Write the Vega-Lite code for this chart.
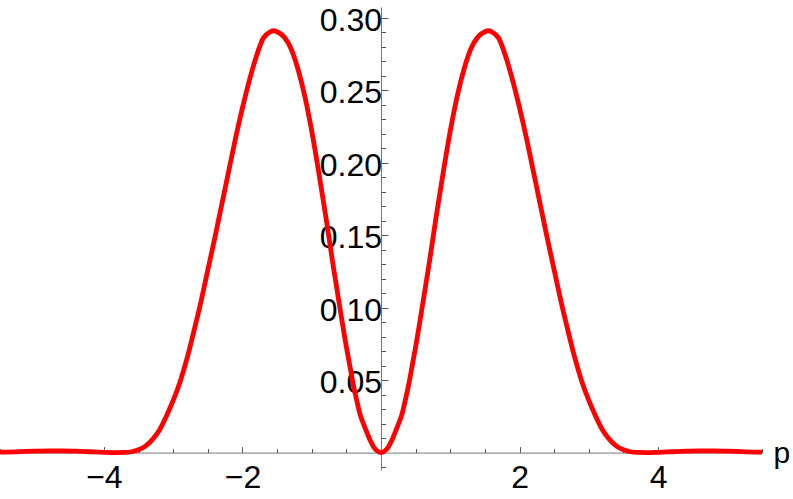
{
  "$schema": "https://vega.github.io/schema/vega-lite/v6.json",
  "width": 762,
  "height": 463,
  "autosize": {"type": "none"},
  "padding": {"left": 0, "top": 7, "right": 31, "bottom": 29},
  "background": "white",
  "config": {"view": {"stroke": null}, "font": "Liberation Sans"},
  "data": {"values": [
    {"p": -5.5, "f": 0.0003}, {"p": -5.4, "f": 0.0004}, {"p": -5.2, "f": 0.0007}, {"p": -5.0, "f": 0.001},
    {"p": -4.8, "f": 0.0012}, {"p": -4.6, "f": 0.0012}, {"p": -4.4, "f": 0.001}, {"p": -4.2, "f": 0.0006},
    {"p": -4.0, "f": 0.0002}, {"p": -3.85, "f": 0}, {"p": -3.7, "f": 0.0001}, {"p": -3.6, "f": 0.0006},
    {"p": -3.5, "f": 0.002}, {"p": -3.4, "f": 0.0045}, {"p": -3.3, "f": 0.009}, {"p": -3.2, "f": 0.0155},
    {"p": -3.1, "f": 0.025}, {"p": -3.0, "f": 0.036}, {"p": -2.9, "f": 0.049}, {"p": -2.8, "f": 0.065},
    {"p": -2.7, "f": 0.084}, {"p": -2.6, "f": 0.104}, {"p": -2.5, "f": 0.126}, {"p": -2.4, "f": 0.148},
    {"p": -2.3, "f": 0.171}, {"p": -2.2, "f": 0.194}, {"p": -2.1, "f": 0.217}, {"p": -2.0, "f": 0.238},
    {"p": -1.9, "f": 0.257}, {"p": -1.8, "f": 0.2735}, {"p": -1.7, "f": 0.286}, {"p": -1.6, "f": 0.2905},
    {"p": -1.55, "f": 0.2912}, {"p": -1.5, "f": 0.2905}, {"p": -1.4, "f": 0.287}, {"p": -1.3, "f": 0.279},
    {"p": -1.2, "f": 0.265}, {"p": -1.1, "f": 0.246}, {"p": -1.0, "f": 0.222}, {"p": -0.9, "f": 0.194},
    {"p": -0.8, "f": 0.164}, {"p": -0.7, "f": 0.132}, {"p": -0.6, "f": 0.102}, {"p": -0.5, "f": 0.073},
    {"p": -0.45, "f": 0.06}, {"p": -0.4, "f": 0.047}, {"p": -0.35, "f": 0.036}, {"p": -0.3, "f": 0.026},
    {"p": -0.25, "f": 0.0195}, {"p": -0.2, "f": 0.0135}, {"p": -0.15, "f": 0.0078}, {"p": -0.1, "f": 0.0035},
    {"p": -0.05, "f": 0.001}, {"p": 0, "f": 0},
    {"p": 0.05, "f": 0.001}, {"p": 0.1, "f": 0.0035}, {"p": 0.15, "f": 0.0078}, {"p": 0.2, "f": 0.0135},
    {"p": 0.25, "f": 0.0195}, {"p": 0.3, "f": 0.026}, {"p": 0.35, "f": 0.036}, {"p": 0.4, "f": 0.047},
    {"p": 0.45, "f": 0.06}, {"p": 0.5, "f": 0.073}, {"p": 0.6, "f": 0.102}, {"p": 0.7, "f": 0.132},
    {"p": 0.8, "f": 0.164}, {"p": 0.9, "f": 0.194}, {"p": 1.0, "f": 0.222}, {"p": 1.1, "f": 0.246},
    {"p": 1.2, "f": 0.265}, {"p": 1.3, "f": 0.279}, {"p": 1.4, "f": 0.287}, {"p": 1.5, "f": 0.2905},
    {"p": 1.55, "f": 0.2912}, {"p": 1.6, "f": 0.2905}, {"p": 1.7, "f": 0.286}, {"p": 1.8, "f": 0.2735},
    {"p": 1.9, "f": 0.257}, {"p": 2.0, "f": 0.238}, {"p": 2.1, "f": 0.217}, {"p": 2.2, "f": 0.194},
    {"p": 2.3, "f": 0.171}, {"p": 2.4, "f": 0.148}, {"p": 2.5, "f": 0.126}, {"p": 2.6, "f": 0.104},
    {"p": 2.7, "f": 0.084}, {"p": 2.8, "f": 0.065}, {"p": 2.9, "f": 0.049}, {"p": 3.0, "f": 0.036},
    {"p": 3.1, "f": 0.025}, {"p": 3.2, "f": 0.0155}, {"p": 3.3, "f": 0.009}, {"p": 3.4, "f": 0.0045},
    {"p": 3.5, "f": 0.002}, {"p": 3.6, "f": 0.0006}, {"p": 3.7, "f": 0.0001}, {"p": 3.85, "f": 0},
    {"p": 4.0, "f": 0.0002}, {"p": 4.2, "f": 0.0006}, {"p": 4.4, "f": 0.001}, {"p": 4.6, "f": 0.0012},
    {"p": 4.8, "f": 0.0012}, {"p": 5.0, "f": 0.001}, {"p": 5.2, "f": 0.0007}, {"p": 5.4, "f": 0.0004},
    {"p": 5.5, "f": 0.0003}
  ]},
  "mark": {"type": "line", "color": "#ff0000", "strokeWidth": 4.8, "interpolate": "monotone", "clip": false},
  "encoding": {
    "x": {
      "field": "p", "type": "quantitative",
      "scale": {"domain": [-5.5, 5.5], "nice": false, "zero": false},
      "axis": {
        "orient": "bottom", "offset": -17.4,
        "values": [-5.5, -5, -4.5, -4, -3.5, -3, -2.5, -2, -1.5, -1, -0.5, 0.5, 1, 1.5, 2, 2.5, 3, 3.5, 4, 4.5, 5, 5.5],
        "labelExpr": "datum.value % 2 === 0 ? format(datum.value, 'd') : ''",
        "grid": false,
        "domainColor": "#777777", "domainWidth": 1,
        "tickColor": "#555555", "tickWidth": 1,
        "tickSize": {"condition": {"test": "datum.value % 2 === 0", "value": -6}, "value": -4},
        "labelFont": "Liberation Sans", "labelFontSize": 32, "labelColor": "#000000",
        "labelBaseline": "alphabetic", "labelPadding": 41, "labelAlign": "center",
        "labelFlush": false, "labelOverlap": false, "labelBound": false,
        "title": "p", "titleFont": "Liberation Sans", "titleFontSize": 30, "titleFontWeight": "normal",
        "titleColor": "#000000", "titleAngle": 0, "titleAlign": "left", "titleBaseline": "alphabetic",
        "titleX": 773, "titleY": 9.5
      }
    },
    "y": {
      "field": "f", "type": "quantitative",
      "scale": {"domain": [-0.012, 0.3076], "nice": false, "zero": false},
      "axis": {
        "orient": "left", "offset": -381,
        "values": [-0.01, 0.01, 0.02, 0.03, 0.04, 0.05, 0.06, 0.07, 0.08, 0.09, 0.1, 0.11, 0.12, 0.13, 0.14, 0.15, 0.16, 0.17, 0.18, 0.19, 0.2, 0.21, 0.22, 0.23, 0.24, 0.25, 0.26, 0.27, 0.28, 0.29, 0.3],
        "labelExpr": "round(datum.value * 100) % 5 === 0 ? format(datum.value, '.2f') : ''",
        "grid": false,
        "domainColor": "#777777", "domainWidth": 1,
        "tickColor": "#555555", "tickWidth": 1,
        "tickSize": {"condition": {"test": "round(datum.value * 100) % 5 === 0", "value": -7}, "value": -4.5},
        "labelFont": "Liberation Sans", "labelFontSize": 32, "labelColor": "#000000",
        "labelBaseline": "alphabetic", "labelOffset": 12.5, "labelAlign": "right", "labelPadding": 6.5,
        "labelFlush": false, "labelOverlap": false, "labelBound": false,
        "title": null
      }
    }
  }
}
